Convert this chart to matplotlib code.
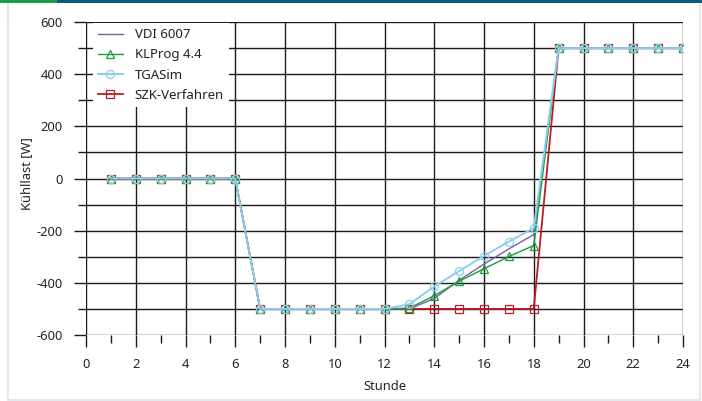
import matplotlib.pyplot as plt
from matplotlib.patches import Rectangle
from matplotlib.ticker import MultipleLocator

plt.rcParams['font.family'] = ['Noto Sans', 'DejaVu Sans']
plt.rcParams['axes.unicode_minus'] = False

# hourly cooling load of the test room, four calculation methods
hours = [1, 2, 3, 4, 5, 6, 7, 8, 9, 10, 11, 12,
         13, 14, 15, 16, 17, 18, 19, 20, 21, 22, 23, 24]
vdi = [0, 0, 0, 0, 0, 0, -500, -500, -500, -500, -500, -500,
       -500, -460, -390, -328, -270, -215, 500, 500, 500, 500, 500, 500]
klprog = [0, 0, 0, 0, 0, 0, -500, -500, -500, -500, -500, -500,
          -497, -449, -394, -346, -299, -257, 500, 500, 500, 500, 500, 500]
tgasim = [0, 0, 0, 0, 0, 0, -500, -500, -500, -500, -500, -500,
          -482, -414, -355, -297, -242, -190, 500, 500, 500, 500, 500, 500]
szk = [0, 0, 0, 0, 0, 0, -500, -500, -500, -500, -500, -500,
       -500, -500, -500, -500, -500, -500, 500, 500, 500, 500, 500, 500]

W, H = 702, 401
fig = plt.figure(figsize=(W / 100, H / 100), dpi=100)

# panel frame and the coloured strip on top
fig.patches.append(Rectangle((8 / W, 1 / H), 692 / W, 398 / H, transform=fig.transFigure,
                             facecolor='white', edgecolor='#dde6ea', lw=1.2, zorder=-2))
fig.patches.append(Rectangle((0, 1 - 3 / H), 57 / W, 3 / H, transform=fig.transFigure,
                             facecolor='#1a9e48', edgecolor='none', zorder=-1))
fig.patches.append(Rectangle((57 / W, 1 - 3 / H), 1 - 57 / W, 3 / H, transform=fig.transFigure,
                             facecolor='#0b5d7c', edgecolor='none', zorder=-1))

ax = fig.add_axes([86 / W, 1 - 335 / H, 597 / W, 313 / H])
ax.set_facecolor('none')

mk = dict(markersize=5.8, markeredgewidth=0.9, markerfacecolor='none')
ax.plot(hours, szk, color='#b81e25', lw=1.3, marker='s', zorder=3, label='SZK-Verfahren', **mk)
ax.plot(hours, vdi, color='#7a5fa8', lw=1.0, zorder=4, label='VDI 6007')
ax.plot(hours, klprog, color='#1a9c3c', lw=1.0, marker='^', zorder=5, label='KLProg 4.4', **mk)
ax.plot(hours, tgasim, color='#8dcdee', lw=1.4, marker='o', zorder=6, label='TGASim', **mk)

ax.set_xlim(0, 24)
ax.set_ylim(-600, 600)
ax.xaxis.set_major_locator(MultipleLocator(2))
ax.xaxis.set_minor_locator(MultipleLocator(1))
ax.yaxis.set_major_locator(MultipleLocator(200))
ax.yaxis.set_minor_locator(MultipleLocator(100))

for s in ax.spines.values():
    s.set_visible(False)

ax.grid(True, axis='x', which='major', color='#1a1a1a', lw=1.0, zorder=1)
ax.grid(True, axis='y', which='both', color='#1a1a1a', lw=1.0, zorder=1)
ax.set_axisbelow(True)

ax.tick_params(which='major', direction='out', length=8.6, width=1.0, color='#1a1a1a',
               labelsize=9.3, labelcolor='#222222', pad=8)
ax.tick_params(which='minor', direction='out', length=5.8, width=1.0, color='#1a1a1a')

ax.set_xlabel('Stunde', fontsize=9.3, color='#222222')
ax.set_ylabel('Kühllast [W]', fontsize=9.3, color='#222222')
ax.xaxis.label.set_va('center')
ax.yaxis.label.set_va('center')
ax.xaxis.set_label_coords(0.5, -0.166)
ax.yaxis.set_label_coords(-0.1, 0.515)

handles, labels = ax.get_legend_handles_labels()
order = [1, 2, 3, 0]
leg = ax.legend([handles[i] for i in order], [labels[i] for i in order],
                loc='upper left', bbox_to_anchor=(0.0117, 0.997), borderaxespad=0,
                fontsize=9.5, frameon=True, fancybox=False, framealpha=1,
                facecolor='white', edgecolor='none', handlelength=1.85,
                handletextpad=0.9, labelspacing=0.55, borderpad=0.4)
for t in leg.get_texts():
    t.set_color('#222222')
leg.set_zorder(7)

fig.savefig('out.png', dpi=100)
